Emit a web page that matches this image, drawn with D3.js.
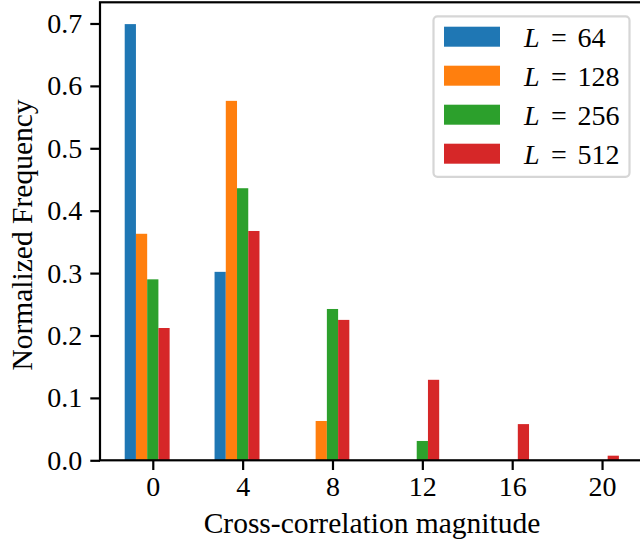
<!DOCTYPE html>
<html>
<head>
<meta charset="utf-8">
<script src="https://cdn.jsdelivr.net/npm/d3@7"></script>
<style>
  body { margin: 0; background: #fff; }
  text { font-family: "Liberation Serif", "Times New Roman", serif; fill: #000; }
</style>
</head>
<body>
<div class="chart"></div>
<script>
// chart data
var magnitudes = [0, 4, 8, 12, 16, 20];
var seriesNames = ["64", "128", "256", "512"];
var seriesColors = ["#1f77b4", "#ff7f0e", "#2ca02c", "#d62728"];
var freqL64 = [0.699, 0.302, 0, 0, 0, 0];
var freqL128 = [0.363, 0.576, 0.063, 0, 0, 0];
var freqL256 = [0.290, 0.436, 0.2425, 0.031, 0, 0];
var freqL512 = [0.212, 0.3675, 0.225, 0.129, 0.058, 0.0074];
var yTicks = [0.0, 0.1, 0.2, 0.3, 0.4, 0.5, 0.6, 0.7];

var allSeries = [freqL64, freqL128, freqL256, freqL512];

var svgWidth = 640;
var svgHeight = 542;

// plot frame (right edge sits just outside the picture)
var margin = { top: 2.3, left: 100, bottom: 460.3, right: 643.6 };
var fontSize = 28;
var labelSize = 29.5;

var svg = d3.select(".chart")
  .append("svg")
  .attr("width", svgWidth)
  .attr("height", svgHeight);

// bar offsets around each tick, in data units
var barWidth = 0.5;
var offsets = [-1, -0.5, 0, 0.5];

var xMin = d3.min(magnitudes) + offsets[0] - barWidth / 2;
var xMax = d3.max(magnitudes) + offsets[3] + barWidth / 2;
var xPad = (xMax - xMin) * 0.05;

var xScale = d3.scaleLinear()
  .domain([xMin - xPad, xMax + xPad])
  .range([margin.left, margin.right]);

var yMax = d3.max(allSeries, s => d3.max(s)) * 1.05;
var yScale = d3.scaleLinear()
  .domain([0, yMax])
  .range([margin.bottom, margin.top]);

// bars
allSeries.forEach(function(series, i) {
  svg.append("g")
    .selectAll("rect")
    .data(series)
    .enter()
    .append("rect")
    .attr("x", (d, j) => xScale(magnitudes[j] + offsets[i] - barWidth / 2))
    .attr("width", xScale(barWidth) - xScale(0))
    .attr("y", d => yScale(d))
    .attr("height", d => yScale(0) - yScale(d))
    .attr("fill", seriesColors[i]);
});

// axes
var bottomAxis = d3.axisBottom(xScale)
  .tickValues(magnitudes)
  .tickFormat(d3.format("d"))
  .tickSize(9.7)
  .tickPadding(6);

var leftAxis = d3.axisLeft(yScale)
  .tickValues(yTicks)
  .tickFormat(d3.format(".1f"))
  .tickSize(9.7)
  .tickPadding(8);

var xAxis = svg.append("g")
  .attr("transform", `translate(0, ${margin.bottom})`)
  .call(bottomAxis);

var yAxis = svg.append("g")
  .attr("transform", `translate(${margin.left}, 0)`)
  .call(leftAxis);

[xAxis, yAxis].forEach(function(ax) {
  ax.select(".domain").remove();
  ax.selectAll("line").attr("stroke", "#000").attr("stroke-width", 2.2);
  ax.selectAll("text")
    .style("font-size", fontSize + "px")
    .style("font-family", "Liberation Serif, serif")
    .attr("fill", "#000");
});

// spines
svg.append("rect")
  .attr("x", margin.left)
  .attr("y", margin.top)
  .attr("width", margin.right - margin.left)
  .attr("height", margin.bottom - margin.top)
  .attr("fill", "none")
  .attr("stroke", "#000")
  .attr("stroke-width", 2.2);

// axis labels
svg.append("text")
  .attr("x", 372)
  .attr("y", 533)
  .attr("text-anchor", "middle")
  .style("font-size", labelSize + "px")
  .text("Cross-correlation magnitude");

svg.append("text")
  .attr("transform", "translate(31.5, 235) rotate(-90)")
  .attr("text-anchor", "middle")
  .style("font-size", labelSize + "px")
  .text("Normalized Frequency");

// legend
var legend = svg.append("g");

legend.append("rect")
  .attr("x", 433.5)
  .attr("y", 16.3)
  .attr("width", 196)
  .attr("height", 160.5)
  .attr("rx", 4)
  .attr("fill", "#fff")
  .attr("fill-opacity", 0.8)
  .attr("stroke", "#d6d6d6")
  .attr("stroke-width", 2.2);

seriesNames.forEach(function(name, i) {
  var rowY = 26.7 + i * 39;
  legend.append("rect")
    .attr("x", 444)
    .attr("y", rowY)
    .attr("width", 56)
    .attr("height", 20)
    .attr("fill", seriesColors[i]);

  var label = legend.append("text")
    .attr("y", rowY + 20)
    .style("font-size", fontSize + "px");
  label.append("tspan").attr("x", 524).style("font-style", "italic").text("L");
  label.append("tspan").attr("x", 551).text("=");
  label.append("tspan").attr("x", 577.5).text(name);
});
</script>
</body>
</html>
